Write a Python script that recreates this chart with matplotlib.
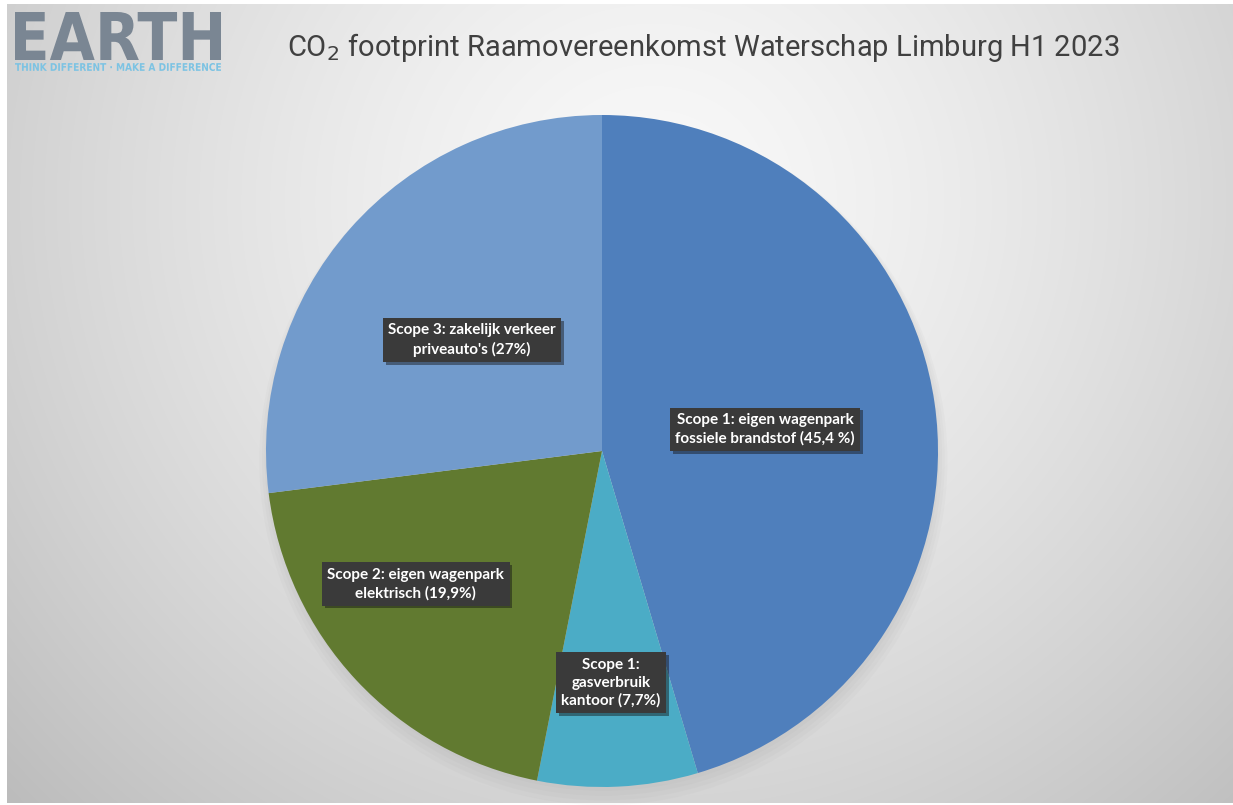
import numpy as np
import matplotlib
matplotlib.use("Agg")
import matplotlib.pyplot as plt
from matplotlib.textpath import TextPath
from matplotlib.patches import PathPatch
from matplotlib.font_manager import FontProperties
from matplotlib.transforms import Affine2D
import matplotlib.patheffects as pe

# ---- data ----
labels = [
    "Scope 1: eigen wagenpark\nfossiele brandstof (45,4 %)",
    "Scope 1:\ngasverbruik\nkantoor (7,7%)",
    "Scope 2: eigen wagenpark\nelektrisch (19,9%)",
    "Scope 3: zakelijk verkeer\npriveauto's (27%)",
]
values = [45.4, 7.7, 19.9, 27.0]
colors = ["#4F7FBC", "#4BACC6", "#617A30", "#729BCC"]
title = "CO$_2$ footprint Raamovereenkomst Waterschap Limburg H1 2023"

W, H = 1233, 805
fig = plt.figure(figsize=(W / 100, H / 100), dpi=100)
fig.patch.set_facecolor("white")

# background gradient
bg = fig.add_axes([7 / W, 2 / H, (W - 7) / W, (H - 6) / H])
yy, xx = np.mgrid[0:H, 0:W]
d = np.sqrt(((xx - 650) / 820.0) ** 2 + ((yy - 200) / 800.0) ** 2)
val = 0.975 - 0.21 * np.clip(d, 0, 1.1) ** 1.4
bg.imshow(np.dstack([val, val, val]), aspect="auto", extent=[0, 1, 0, 1], origin="upper")
bg.set_axis_off()

# pie axes
cx, cy, r = 602, 451, 336
ax = fig.add_axes([(cx - r) / W, 1 - (cy + r) / H, 2 * r / W, 2 * r / H])

wedges, _ = ax.pie(values, colors=colors, startangle=90, counterclock=False, radius=1.0,
                   wedgeprops=dict(linewidth=0))
ax.set_xlim(-1, 1)
ax.set_ylim(-1, 1)
ax.set_aspect("equal")
ax.set_axis_off()

# soft shadow
for i in range(4):
    ax.add_patch(plt.Circle((0.004, -0.012 - 0.006 * i), 1.0 + 0.008 * i, color="#808080",
                            alpha=0.04, lw=0, zorder=0, clip_on=False))

label_pos = [(0.485, 0.065), (0.027, -0.690), (-0.554, -0.396), (-0.387, 0.330)]
for lab, (x, y) in zip(labels, label_pos):
    t = ax.text(x, y, lab, ha="center", va="center", color="white", fontsize=11,
                fontweight="bold", family=["Lato", "DejaVu Sans"], linespacing=1.35,
                bbox=dict(boxstyle="square,pad=0.35", fc="#3A3A3A", ec="none"), zorder=5)
    t.get_bbox_patch().set_path_effects([pe.SimplePatchShadow(offset=(2, -2), alpha=0.45), pe.Normal()])

# title
fig.text(703 / W, 1 - 47 / H, title, ha="center", va="center", fontsize=21,
         color="#404040", family=["Roboto", "DejaVu Sans"])

# logo
lg = fig.add_axes([0, 0, 1, 1])
lg.set_xlim(0, W)
lg.set_ylim(H, 0)
lg.set_axis_off()
fp = FontProperties(family="DejaVu Sans", weight="bold")
tp = TextPath((0, 0), "EARTH", prop=fp, size=1)
ext = tp.get_extents()
x0, x1, y0, y1 = 15, 221, 12, 60
tr = Affine2D().translate(-ext.x0, -ext.y0).scale((x1 - x0) / ext.width, -(y1 - y0) / ext.height).translate(x0, y1)
lg.add_patch(PathPatch(tr.transform_path(tp), fc="#7A8693", ec="none"))
tp2 = TextPath((0, 0), "THINK DIFFERENT · MAKE A DIFFERENCE", prop=FontProperties(family="DejaVu Sans", weight="bold"), size=1)
e2 = tp2.get_extents()
tr2 = Affine2D().translate(-e2.x0, -e2.y0).scale((221 - 15) / e2.width, -(71 - 63) / e2.height).translate(15, 71)
lg.add_patch(PathPatch(tr2.transform_path(tp2), fc="#7CC3E3", ec="none"))

fig.savefig("out.png", dpi=100)
